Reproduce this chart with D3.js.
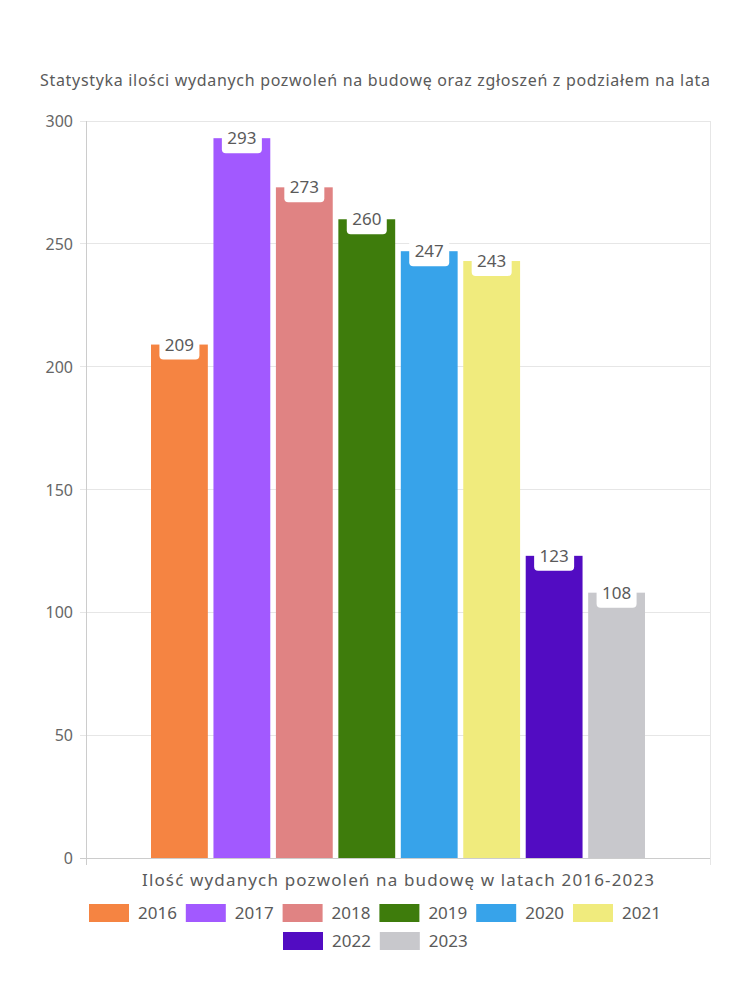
<!DOCTYPE html>
<html><head><meta charset="utf-8">
<script src="https://cdn.jsdelivr.net/npm/d3@7"></script>
<style>body{margin:0;background:#fff}svg{display:block}text{font-family:"Noto Sans",Lato,sans-serif}</style>
</head><body>
<script>
const years = ["2016","2017","2018","2019","2020","2021","2022","2023"];
const values = [209,293,273,260,247,243,123,108];
const colors = ["#f58442","#a259ff","#e08383","#3e7c0c","#37a3ea","#f0eb7d","#520cc2","#c8c8cc"];
const yTicks = [0,50,100,150,200,250,300];
const title = "Statystyka ilości wydanych pozwoleń na budowę oraz zgłoszeń z podziałem na lata";
const xTitle = "Ilość wydanych pozwoleń na budowę w latach 2016-2023";

(function(){
const W=750,H=1000;
const svg=d3.select("body").append("svg").attr("width",W).attr("height",H);
const pl=86,pr=710,pt=121,pb=858;
const y=d3.scaleLinear().domain([0,300]).range([pb,pt]);
const x=d3.scaleBand().domain(years).range([151,645]).paddingInner(0.09).paddingOuter(0);

svg.append("text").attr("x",375).attr("y",86).attr("text-anchor","middle")
  .attr("font-size",16).attr("fill","#5a5a5a").attr("textLength",670).attr("lengthAdjust","spacing").text(title);

svg.append("g").selectAll("line").data(yTicks).join("line")
  .attr("x1",pl-6).attr("x2",pr).attr("y1",d=>y(d)).attr("y2",d=>y(d))
  .attr("stroke",(d)=>d===0?"#ccc":"#e6e6e6").attr("stroke-width",1).attr("shape-rendering","crispEdges");
svg.append("line").attr("x1",pl).attr("x2",pl).attr("y1",pt).attr("y2",pb+7).attr("stroke","#ccc").attr("shape-rendering","crispEdges");
svg.append("line").attr("x1",pr).attr("x2",pr).attr("y1",pt).attr("y2",pb+7).attr("stroke","#e6e6e6").attr("shape-rendering","crispEdges");
svg.append("g").selectAll("text").data(yTicks).join("text")
  .attr("x",73).attr("y",d=>y(d)+6).attr("text-anchor","end").attr("font-size",16).attr("fill","#666").text(d=>d);

svg.append("g").selectAll("rect").data(values).join("rect")
  .attr("x",(d,i)=>x(years[i])).attr("width",x.bandwidth())
  .attr("y",d=>y(d)).attr("height",d=>pb-y(d)).attr("fill",(d,i)=>colors[i]);

const lab=svg.append("g").selectAll("g").data(values).join("g")
  .attr("transform",(d,i)=>`translate(${x(years[i])+x.bandwidth()/2},${y(d)})`);
lab.append("rect").attr("x",-20).attr("y",-16).attr("width",40).attr("height",31).attr("rx",4).attr("fill","#fff");
lab.append("text").attr("text-anchor","middle").attr("y",6).attr("font-size",17).attr("fill","#5a5a5a").text(d=>d);

svg.append("text").attr("x",398).attr("y",886).attr("text-anchor","middle")
  .attr("font-size",17).attr("fill","#5a5a5a").attr("textLength",512).attr("lengthAdjust","spacing").text(xTitle);

const legPos=years.map((yr,i)=> i<6 ? {x:89+i*96.8,y:904} : {x:283+(i-6)*96.8,y:932});
const lg=svg.append("g").selectAll("g").data(years).join("g").attr("transform",(d,i)=>`translate(${legPos[i].x},${legPos[i].y})`);
lg.append("rect").attr("width",40).attr("height",18).attr("fill",(d,i)=>colors[i]);
lg.append("text").attr("x",49).attr("y",15).attr("font-size",17).attr("fill","#5a5a5a").text(d=>d);
})();
</script>
</body></html>
